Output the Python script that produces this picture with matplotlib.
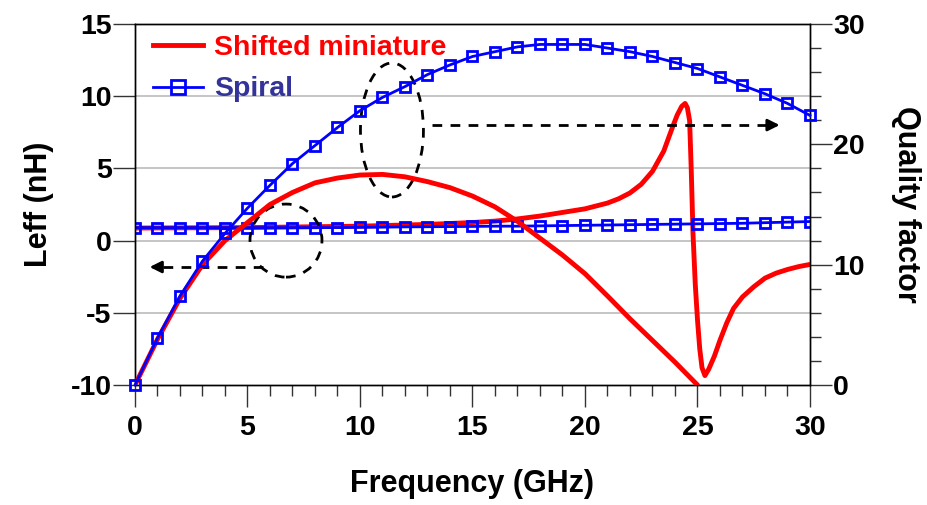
import matplotlib
matplotlib.use("Agg")
import matplotlib.pyplot as plt
from matplotlib.patches import Ellipse
from matplotlib.ticker import MultipleLocator
from matplotlib.lines import Line2D

# ---------------- data ----------------
freq_spiral = list(range(0, 31))
q_spiral = [0, 3.9, 7.4, 10.3, 12.6, 14.7, 16.6, 18.4, 19.9, 21.4, 22.8, 23.9, 24.8,
            25.8, 26.6, 27.3, 27.7, 28.1, 28.3, 28.3, 28.3, 28.0, 27.7, 27.3, 26.8,
            26.3, 25.6, 24.9, 24.2, 23.4, 22.4]
leff_spiral = [0.9, 0.9, 0.9, 0.9, 0.9, 0.9, 0.9, 0.9, 0.9, 0.9, 0.92, 0.93, 0.95,
               0.96, 0.97, 0.98, 1.0, 1.0, 1.02, 1.04, 1.06, 1.08, 1.1, 1.12, 1.14,
               1.16, 1.18, 1.2, 1.24, 1.28, 1.32]

freq_mini_q = [0, 1, 2, 3, 4, 5, 6, 7, 8, 9, 10, 11, 12, 13, 14, 15, 16, 17, 18,
               19, 20, 21, 22, 23, 24, 25]
q_mini = [0, 3.8, 7.2, 10.0, 12.0, 13.5, 15.0, 16.0, 16.8, 17.2, 17.45, 17.5, 17.3,
          16.9, 16.4, 15.7, 14.8, 13.6, 12.2, 10.8, 9.25, 7.4, 5.5, 3.7, 1.9, 0]

freq_mini_l = [0, 5, 10, 13, 15, 16, 17, 18, 19, 20, 21, 21.5, 22, 22.5, 23, 23.5,
               23.9, 24.1, 24.3, 24.45, 24.55, 24.65, 24.72, 24.8, 24.9, 25.0, 25.1,
               25.2, 25.33, 25.5, 25.75, 26.0, 26.3, 26.6, 27.0, 27.5, 28.0, 28.5,
               29.0, 29.5, 30.0]
leff_mini = [0.87, 0.9, 1.0, 1.12, 1.25, 1.35, 1.5, 1.7, 1.95, 2.2, 2.6, 2.9, 3.3,
             3.9, 4.8, 6.2, 7.9, 8.7, 9.3, 9.5, 9.2, 8.3, 5.0, 0.5, -3.0, -5.5,
             -7.5, -8.8, -9.35, -8.9, -8.0, -6.9, -5.7, -4.7, -3.9, -3.2, -2.6,
             -2.25, -2.0, -1.8, -1.65]

x_ticks = [0, 5, 10, 15, 20, 25, 30]
leff_ticks = [-10, -5, 0, 5, 10, 15]
q_ticks = [0, 10, 20, 30]

RED = "#FF0000"
BLUE = "#0000FF"
SPIRAL_TXT = "#333399"

plt.rcParams['font.family'] = ['Liberation Sans', 'DejaVu Sans']
plt.rcParams['font.weight'] = 'bold'
plt.rcParams['axes.unicode_minus'] = False

fig = plt.figure(figsize=(9.28, 5.05), dpi=100)
ax = fig.add_axes([135/928, 1-385/505, 675/928, 361/505])
ax2 = ax.twinx()

# grid on left axis
for y in [-5, 0, 5, 10]:
    ax.axhline(y, color="#C0C0C0", lw=1.3, zorder=0)

LW_RED = 3.5
LW_BLUE = 2.0

# Leff curves
ax.plot(freq_mini_l, leff_mini, color=RED, lw=LW_RED, zorder=3, solid_capstyle='round')
ax.plot(freq_spiral, leff_spiral, color=BLUE, lw=LW_BLUE, marker='s', ms=7.5,
        mfc='none', mec=BLUE, mew=2.0, zorder=4)

# Q curves
ax2.plot(freq_mini_q, q_mini, color=RED, lw=LW_RED, zorder=3, solid_capstyle='round')
ax2.plot(freq_spiral, q_spiral, color=BLUE, lw=LW_BLUE, marker='s', ms=7.5,
         mfc='none', mec=BLUE, mew=2.0, zorder=4, clip_on=False)

ax.set_xlim(0, 30)
ax.set_ylim(-10, 15)
ax2.set_ylim(0, 30)

ax.set_xticks(x_ticks, labels=[str(v) for v in x_ticks], fontsize=20.5, fontweight='bold')
ax.xaxis.set_minor_locator(MultipleLocator(1))
ax.set_yticks(leff_ticks, labels=[str(v) for v in leff_ticks], fontsize=20.5, fontweight='bold')
ax2.set_yticks(q_ticks, labels=[str(v) for v in q_ticks], fontsize=20.5, fontweight='bold')
ax2.yaxis.set_minor_locator(MultipleLocator(2))

for a in (ax, ax2):
    for s in a.spines.values():
        s.set_linewidth(1.0)
        s.set_color("black")

ax.tick_params(axis='x', which='major', direction='out', length=15.8, width=1.0,
               pad=6, color="#333333")
ax.tick_params(axis='x', which='minor', direction='out', length=7.9, width=1.0,
               color="#333333")
ax.tick_params(axis='y', which='major', direction='out', length=15.8, width=1.0,
               pad=1, color="#333333")
ax2.tick_params(axis='y', which='major', direction='out', length=15.8, width=1.0,
                pad=1, color="#333333")
ax2.tick_params(axis='y', which='minor', direction='out', length=7.9, width=1.0,
                color="#333333")

ax.set_xlabel("Frequency (GHz)", fontsize=22, fontweight='bold', labelpad=20)
ax.set_ylabel("Leff (nH)", fontsize=22, fontweight='bold', labelpad=12)
ax2.set_ylabel("Quality factor", fontsize=22, fontweight='bold', rotation=270,
               labelpad=40)

# legend
h1 = Line2D([], [], color=RED, lw=LW_RED)
h2 = Line2D([], [], color=BLUE, lw=LW_BLUE, marker='s', ms=10, mfc='none', mec=BLUE, mew=2.0)
leg = ax2.legend([h1, h2], ["Shifted miniature", "Spiral"], loc='upper left',
                 bbox_to_anchor=(18/675, 0.97), frameon=False,
                 prop=dict(size=20.5, weight='bold'),
                 handlelength=1.75, handletextpad=0.4, borderpad=0, borderaxespad=0,
                 labelspacing=0.55)
txts = leg.get_texts()
txts[0].set_color(RED)
txts[1].set_color(SPIRAL_TXT)

# annotations (dashed ellipses and arrows)
DASH = (0, (3.5, 3))
e1 = Ellipse((11.42, 7.66), 2.8, 9.28, fill=False, ec='black', lw=2.0, ls=DASH, zorder=5)
e2 = Ellipse((6.71, 0.0), 3.2, 5.06, fill=False, ec='black', lw=2.0, ls=DASH, zorder=5)
ax.add_patch(e1)
ax.add_patch(e2)

ax.plot([13.2, 28.2], [8.0, 8.0], color='black', lw=2.0, ls=DASH, zorder=5)
ax.annotate("", xy=(28.65, 8.0), xytext=(28.1, 8.0),
            arrowprops=dict(arrowstyle='-|>,head_length=0.7,head_width=0.35',
                            color='black', lw=2.0, shrinkA=0, shrinkB=0), zorder=6)
ax.plot([5.7, 1.1], [-1.83, -1.83], color='black', lw=2.0, ls=DASH, zorder=5)
ax.annotate("", xy=(0.65, -1.83), xytext=(1.2, -1.83),
            arrowprops=dict(arrowstyle='-|>,head_length=0.7,head_width=0.35',
                            color='black', lw=2.0, shrinkA=0, shrinkB=0), zorder=6)

fig.savefig("out.png", dpi=100)
